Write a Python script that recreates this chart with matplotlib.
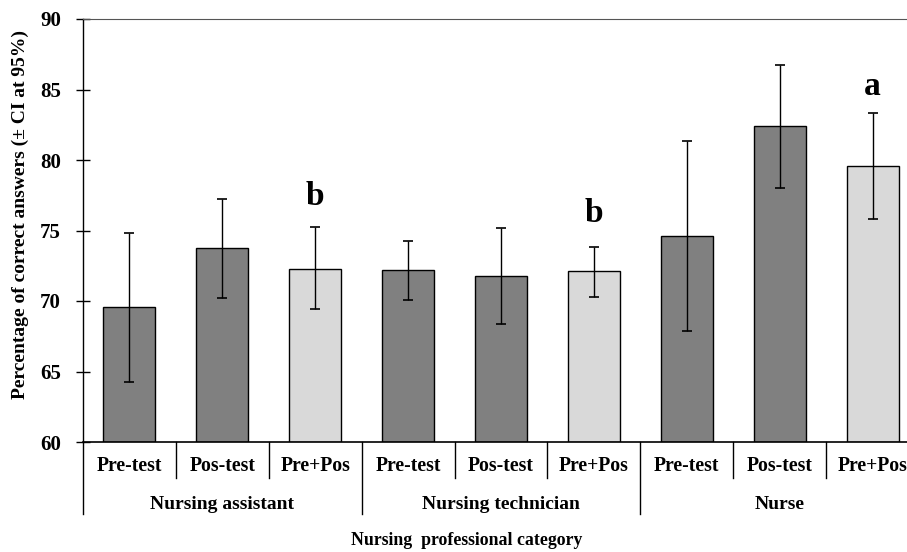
import matplotlib
matplotlib.use("Agg")
import matplotlib.pyplot as plt
import numpy as np

# ---- data ----
groups = ["Nursing assistant", "Nursing technician", "Nurse"]
tests = ["Pre-test", "Pos-test", "Pre+Pos"]
means = [69.6, 73.75, 72.3, 72.2, 71.8, 72.15, 74.6, 82.4, 79.6]
ci_upper = [74.8, 77.2, 75.25, 74.25, 75.15, 73.8, 81.35, 86.75, 83.3]
ci_lower = [64.25, 70.2, 69.4, 70.1, 68.35, 70.3, 67.9, 78.0, 75.85]
letters = ["b", "b", "a"]
letter_y = [76.8, 75.6, 84.6]
yticks = [60, 65, 70, 75, 80, 85, 90]

plt.rcParams['font.family'] = ['Liberation Serif', 'DejaVu Serif']
plt.rcParams['font.weight'] = 'bold'

fig = plt.figure(figsize=(9.07, 5.52), dpi=100)
left, right, bottom, top = 83 / 907, 919 / 907, 1 - 442 / 552, 1 - 19 / 552
ax = fig.add_axes([left, bottom, right - left, top - bottom])

n = len(means)
x = np.arange(n)
colors = ["#808080", "#808080", "#d9d9d9"] * len(groups)
yerr = [np.array(means) - np.array(ci_lower), np.array(ci_upper) - np.array(means)]
ax.bar(x, np.array(means) - 60, bottom=60, width=0.56, color=colors,
       edgecolor="black", linewidth=1.0, zorder=2)
ax.errorbar(x, means, yerr=yerr, fmt="none", ecolor="black", elinewidth=1.0,
            capsize=3.5, capthick=1.2, zorder=3)

ax.set_xlim(-0.5, n - 0.5)
ax.set_ylim(60, 90)
ax.set_yticks(yticks)
ax.set_yticklabels([str(t) for t in yticks], fontsize=15, fontweight='bold')
ax.tick_params(axis='y', direction='inout', length=10, width=1, pad=11)
ax.set_xticks([])

ax.spines['right'].set_visible(False)
ax.spines['top'].set_color('#555555')
ax.spines['left'].set_linewidth(1)
ax.spines['bottom'].set_linewidth(1.2)

trans = ax.get_xaxis_transform()
# category separators
for i in range(1, n):
    x0 = i - 0.5
    if i % 3 == 0:
        ax.plot([x0, x0], [0, -0.170], transform=trans, color='black', lw=1, clip_on=False)
    else:
        ax.plot([x0, x0], [0, -0.085], transform=trans, color='black', lw=1, clip_on=False)
ax.plot([-0.5, -0.5], [0, -0.170], transform=trans, color='black', lw=1, clip_on=False)

for i in range(n):
    ax.text(x[i], -0.057, tests[i % 3], transform=trans, ha='center', va='center',
            fontsize=14.2, fontweight='bold')
for g, name in enumerate(groups):
    ax.text(g * 3 + 1, -0.147, name, transform=trans, ha='center', va='center',
            fontsize=14, fontweight='bold')

ax.text((467 - 83) / 836, -0.232, "Nursing  professional category", transform=ax.transAxes,
        ha='center', va='center', fontsize=12.8, fontweight='bold')

ax.set_ylabel("Percentage of correct answers (\u00b1 CI at 95%)", fontsize=14, fontweight='bold')
ax.yaxis.set_label_coords(-0.064, 0.539)

for k, (lt, ly) in enumerate(zip(letters, letter_y)):
    ax.text(k * 3 + 2, ly, lt, ha='center', va='baseline', fontsize=24, fontweight='bold')

fig.savefig("out.png", dpi=100)
